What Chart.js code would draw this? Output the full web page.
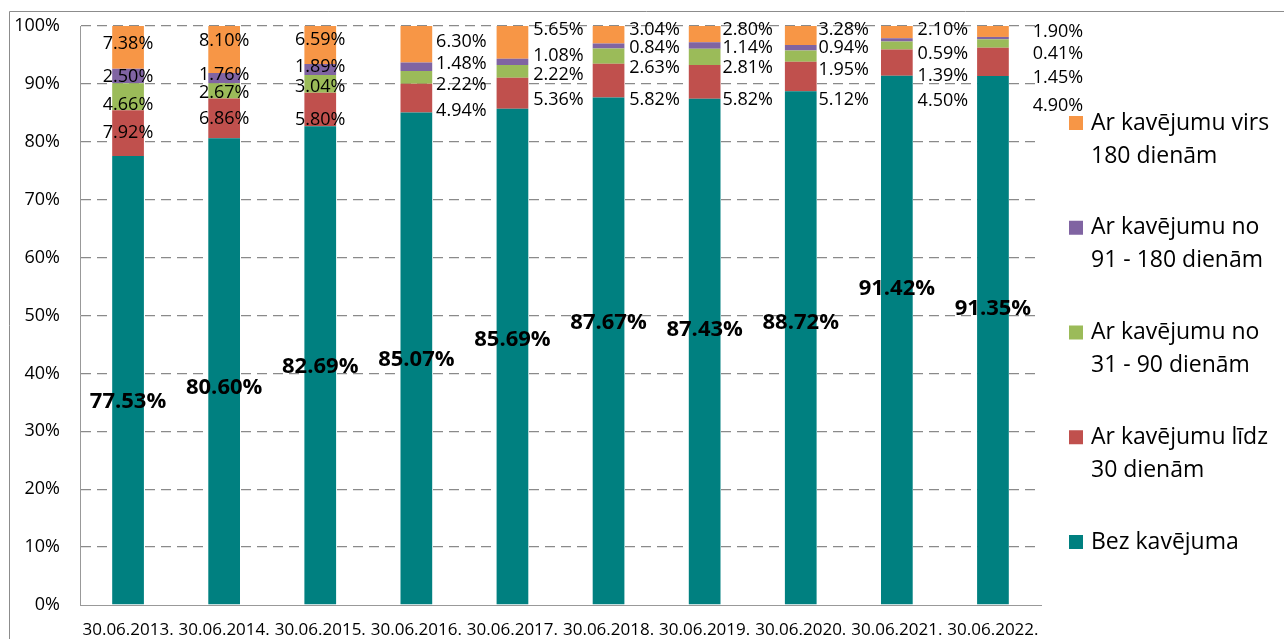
<!DOCTYPE html>
<html>
<head>
<meta charset="utf-8">
<script src="https://cdn.jsdelivr.net/npm/chart.js@4.4.1/dist/chart.umd.min.js"></script>
<style>
  body { margin: 0; background: #fff; }
  #wrap { width: 1284px; height: 639px; }
</style>
</head>
<body>
<div id="wrap"><canvas id="portfelis" width="1284" height="639"></canvas></div>
<script>
// datumi (kategorijas)
const dates = ['30.06.2013.', '30.06.2014.', '30.06.2015.', '30.06.2016.', '30.06.2017.',
  '30.06.2018.', '30.06.2019.', '30.06.2020.', '30.06.2021.', '30.06.2022.'];

// sērijas, % no portfeļa
const bezKavejuma = [77.53, 80.60, 82.69, 85.07, 85.69, 87.67, 87.43, 88.72, 91.42, 91.35];
const lidz30 = [7.92, 6.86, 5.80, 4.94, 5.36, 5.82, 5.82, 5.12, 4.50, 4.90];
const no31lidz90 = [4.66, 2.67, 3.04, 2.22, 2.22, 2.63, 2.81, 1.95, 1.39, 1.45];
const no91lidz180 = [2.50, 1.76, 1.89, 1.48, 1.08, 0.84, 1.14, 0.94, 0.59, 0.41];
const virs180 = [7.38, 8.10, 6.59, 6.30, 5.65, 3.04, 2.80, 3.28, 2.10, 1.90];

const yTicks = [0, 10, 20, 30, 40, 50, 60, 70, 80, 90, 100];

// etiķešu novietojums (y vērtības skalā, x nobīde px)
const labelDx = [0, 0, 0, 45, 46, 46, 43, 43, 46, 65];
const labelY = [
  [35.1, 37.5, 41.1, 42.3, 45.8, 48.7, 47.5, 48.7, 54.7, 51.1],
  [81.5, 83.9, 83.8, 85.3, 87.2, 87.2, 87.2, 87.2, 87.0, 86.2],
  [86.4, 88.4, 89.5, 89.8, 91.5, 92.7, 92.7, 92.4, 91.4, 91.0],
  [91.2, 91.5, 92.9, 93.4, 94.8, 96.2, 96.2, 96.2, 95.2, 95.2],
  [96.9, 97.4, 97.6, 97.2, 99.3, 99.3, 99.3, 99.3, 99.3, 99.0]
];

const series = [
  { name: ['Bez kavējuma'], data: bezKavejuma, color: '#008080' },
  { name: ['Ar kavējumu līdz', '30 dienām'], data: lidz30, color: '#C0504D' },
  { name: ['Ar kavējumu no', '31 - 90 dienām'], data: no31lidz90, color: '#9BBB59' },
  { name: ['Ar kavējumu no', '91 - 180 dienām'], data: no91lidz180, color: '#8064A2' },
  { name: ['Ar kavējumu virs', '180 dienām'], data: virs180, color: '#F79646' }
];

const FONT = '"Open Sans", "Liberation Sans", sans-serif';

// vērtību etiķetes
const valueLabels = {
  id: 'valueLabels',
  afterDatasetsDraw(chart) {
    const { ctx, scales: { x, y } } = chart;
    ctx.save();
    ctx.fillStyle = '#000';
    ctx.textAlign = 'center';
    ctx.textBaseline = 'middle';
    series.forEach((s, d) => {
      ctx.font = d === 0 ? 'bold 22px ' + FONT : '18px ' + FONT;
      s.data.forEach((v, j) => {
        const px = x.getPixelForValue(j) + (d === 0 ? 0 : labelDx[j]);
        const py = y.getPixelForValue(labelY[d][j]);
        ctx.fillText(v.toFixed(2) + '%', px, py);
      });
    });
    ctx.restore();
  }
};

// leģenda labajā pusē + rāmis
const sideLegend = {
  id: 'sideLegend',
  afterDraw(chart) {
    const { ctx } = chart;
    ctx.save();
    ctx.strokeStyle = '#8c8c8c';
    ctx.lineWidth = 1;
    ctx.beginPath();
    ctx.moveTo(9.5, 639);
    ctx.lineTo(9.5, 11.5);
    ctx.lineTo(1284, 11.5);
    ctx.stroke();

    ctx.font = '23px ' + FONT;
    ctx.textBaseline = 'middle';
    ctx.textAlign = 'left';
    const items = series.slice().reverse();
    items.forEach((s, i) => {
      const y0 = 123 + i * 104.75;
      ctx.fillStyle = s.color;
      ctx.fillRect(1069, y0 - 7, 14, 14);
      ctx.fillStyle = '#000';
      s.name.forEach((line, k) => ctx.fillText(line, 1091, y0 + k * 33));
    });
    ctx.restore();
  }
};

new Chart(document.getElementById('portfelis'), {
  type: 'bar',
  data: {
    labels: dates,
    datasets: series.map(s => ({
      label: s.name.join(' '),
      data: s.data,
      backgroundColor: s.color,
      borderWidth: 0,
      barPercentage: 0.33,
      categoryPercentage: 1.0
    }))
  },
  options: {
    responsive: false,
    animation: false,
    devicePixelRatio: 1,
    layout: { padding: { top: 26, right: 243, left: 0, bottom: 0 } },
    plugins: { legend: { display: false }, tooltip: { enabled: false } },
    scales: {
      x: {
        stacked: true,
        grid: { display: false, drawTicks: false },
        border: { display: true, color: '#999' },
        ticks: { color: '#000', font: { family: FONT, size: 17 }, padding: 15, maxRotation: 0, autoSkip: false },
        afterFit(scale) { scale.height = 34; }
      },
      y: {
        stacked: true,
        min: 0,
        max: 100,
        afterBuildTicks(scale) { scale.ticks = yTicks.map(v => ({ value: v })); },
        grid: {
          drawTicks: true,
          tickLength: 20,
          tickColor: 'rgba(0,0,0,0)',
          color: c => (c.tick && c.tick.value === 0 ? 'rgba(0,0,0,0)' : '#8a8a8a'),
          lineWidth: 1.3
        },
        border: { display: true, color: '#999', dash: [10, 6] },
        ticks: {
          color: '#000',
          font: { family: FONT, size: 18 },
          padding: 0,
          callback: v => v + '%'
        },
        afterFit(scale) { scale.width = 80; }
      }
    }
  },
  plugins: [valueLabels, sideLegend]
});
</script>
</body>
</html>
